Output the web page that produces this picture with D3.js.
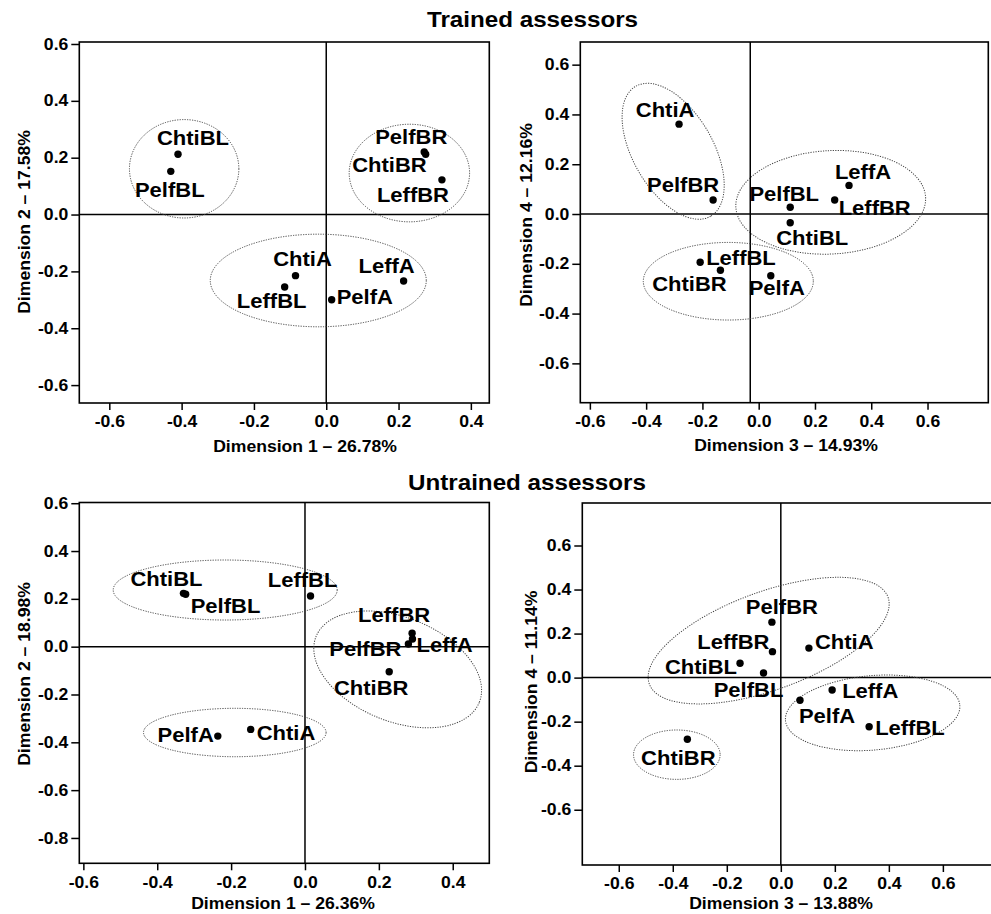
<!DOCTYPE html>
<html>
<head>
<meta charset="utf-8">
<script src="https://cdn.jsdelivr.net/npm/d3@7"></script>
<style>
  body { margin: 0; background: #fff; }
  svg text { font-family: "Liberation Sans", Arial, sans-serif; font-weight: bold; fill: #000; }
</style>
</head>
<body>
<div class="chart"></div>
<script>
// samples, same order in every array below
const samples = ["ChtiA", "ChtiBL", "ChtiBR", "LeffA", "LeffBL", "LeffBR", "PelfA", "PelfBL", "PelfBR"];

// trained assessors, coordinates
const trainedDim1 = [-0.085, -0.41, 0.275, 0.214, -0.115, 0.32, 0.015, -0.43, 0.271];
const trainedDim2 = [-0.215, 0.212, 0.212, -0.234, -0.255, 0.122, -0.30, 0.152, 0.22];
const trainedDim3 = [-0.283, 0.112, -0.136, 0.321, -0.208, 0.27, 0.043, 0.112, -0.162];
const trainedDim4 = [0.361, -0.035, -0.226, 0.115, -0.194, 0.056, -0.248, 0.027, 0.056];

// untrained assessors
const untrainedDim1 = [-0.147, -0.329, 0.228, 0.291, 0.015, 0.290, -0.236, -0.323, 0.280];
const untrainedDim2 = [-0.346, 0.223, -0.105, 0.032, 0.212, 0.056, -0.374, 0.219, 0.011];
const untrainedDim3 = [0.104, -0.151, -0.346, 0.190, 0.327, -0.031, 0.071, -0.064, -0.033];
const untrainedDim4 = [0.134, 0.065, -0.280, -0.056, -0.223, 0.118, -0.103, 0.021, 0.252];

// tick labels
const ticks6to4 = [-0.6, -0.4, -0.2, 0.0, 0.2, 0.4];
const ticks6to6 = [-0.6, -0.4, -0.2, 0.0, 0.2, 0.4, 0.6];
const ticks8to6 = [-0.8, -0.6, -0.4, -0.2, 0.0, 0.2, 0.4, 0.6];

const axisTitles = ["Dimension 1 \u2013 26.78%", "Dimension 2 \u2013 17.58%",
                    "Dimension 3 \u2013 14.93%", "Dimension 4 \u2013 12.16%",
                    "Dimension 1 \u2013 26.36%", "Dimension 2 \u2013 18.98%",
                    "Dimension 3 \u2013 13.88%", "Dimension 4 \u2013 11.14%"];

// label placement around each dot: [dx, dy, anchor]
const labels1 = [[7,-10,"middle"],[15,-9,"middle"],[1,18,"end"],[-17,-8,"middle"],[-13,21,"middle"],[-29,22,"middle"],[5,4,"start"],[-1,26,"middle"],[-13,-8,"middle"]];
const labels2 = [[-14,-7,"middle"],[22,22,"middle"],[-31,21,"middle"],[14,-6,"middle"],[6,3,"start"],[4,15,"start"],[6,19,"middle"],[-6,-6,"middle"],[-30,-8,"middle"]];
const labels3 = [[6,11,"start"],[-17,-7,"middle"],[-18,23,"middle"],[4,13,"start"],[-8,-9,"middle"],[-18,-11,"middle"],[-4,6,"end"],[5,19,"start"],[-7,12,"end"]];
const labels4 = [[6,1,"start"],[-3,11,"end"],[-9,26,"middle"],[10,8,"start"],[6,8,"start"],[-3,-3,"end"],[27,23,"middle"],[-15,24,"middle"],[10,-8,"middle"]];

// dotted group ellipses: centre in data units, radii in px, rotation in degrees
const groups1 = [[-0.393, 0.161, 54.7, 49.2, 0], [0.230, 0.146, 60.2, 48.8, 0], [-0.022, -0.232, 108, 46.3, 0]];
const groups2 = [[-0.304, 0.252, 75, 40, 60], [0.256, 0.047, 95, 51.7, -3], [-0.108, -0.270, 85, 38.8, 0]];
const groups3 = [[-0.216, 0.237, 112, 30, 0], [0.251, -0.095, 88, 52, 22], [-0.190, -0.359, 91.3, 24.2, 0]];
const groups4 = [[-0.045, 0.168, 127, 49, -20], [0.340, -0.160, 87.5, 37.2, -5], [-0.385, -0.35, 43.3, 24.7, 0]];

const width = 991;
const height = 914;
const stretch = 1.1;

const svg = d3.select('.chart')
	.append('svg')
	.attr('width', width)
	.attr('height', height)

const panels = [
	{xs: trainedDim1, ys: trainedDim2, lab: labels1, groups: groups1,
	 left: 79.3, top: 42, right: 489.3, bottom: 403,
	 xDom: [-0.683, 0.451], yDom: [-0.663, 0.607], xTicks: ticks6to4, yTicks: ticks6to6, vline: 0,
	 xTitle: axisTitles[0], yTitle: axisTitles[1], xtX: 305, xtY: 452, ytX: 30, ytY: 222},
	{xs: trainedDim3, ys: trainedDim4, lab: labels2, groups: groups2,
	 left: 580.3, top: 42, right: 988.3, bottom: 402.7,
	 xDom: [-0.634, 0.816], yDom: [-0.758, 0.691], xTicks: ticks6to6, yTicks: ticks6to6, vline: -0.03,
	 xTitle: axisTitles[2], yTitle: axisTitles[3], xtX: 786, xtY: 451, ytX: 531.7, ytY: 215},
	{xs: untrainedDim1, ys: untrainedDim2, lab: labels3, groups: groups3,
	 left: 79.3, top: 502.5, right: 489.3, bottom: 863.3,
	 xDom: [-0.611, 0.499], yDom: [-0.906, 0.603], xTicks: ticks6to4, yTicks: ticks8to6, vline: 0,
	 xTitle: axisTitles[4], yTitle: axisTitles[5], xtX: 283, xtY: 909, ytX: 30, ytY: 674},
	{xs: untrainedDim3, ys: untrainedDim4, lab: labels4, groups: groups4,
	 left: 582.3, top: 503, right: 995, bottom: 865,
	 xDom: [-0.735, 0.793], yDom: [-0.851, 0.793], xTicks: ticks6to6, yTicks: ticks6to6, vline: 0,
	 xTitle: axisTitles[6], yTitle: axisTitles[7], xtX: 781, xtY: 909, ytX: 536.7, ytY: 682}
];

panels.forEach(drawPanel);

// figure titles
svg.append('text')
	.text('Trained assessors')
	.attr('transform', 'translate(427,27) scale(' + stretch + ',1)')
	.attr('font-size', '22px')
svg.append('text')
	.text('Untrained assessors')
	.attr('transform', 'translate(408,490) scale(' + stretch + ',1)')
	.attr('font-size', '22px')

function drawPanel(p) {
	const x = d3.scaleLinear().domain(p.xDom).range([p.left, p.right]);
	const y = d3.scaleLinear().domain(p.yDom).range([p.bottom, p.top]);
	const g = svg.append('g');
	const fmt = d => d.toFixed(1);

	// axes
	const xAxis = g.append('g')
		.attr('transform', 'translate(0,' + p.bottom + ')')
		.call(d3.axisBottom(x).tickValues(p.xTicks).tickFormat(fmt).tickSize(7).tickPadding(6));
	const yAxis = g.append('g')
		.attr('transform', 'translate(' + p.left + ',0)')
		.call(d3.axisLeft(y).tickValues(p.yTicks).tickFormat(fmt).tickSize(8).tickPadding(3));
	[xAxis, yAxis].forEach(function(a) {
		a.select('.domain').remove();
		a.selectAll('line').attr('stroke', '#000').attr('stroke-width', 1.5);
		a.selectAll('text')
			.attr('font-size', '16px')
			.attr('font-family', null)
			.attr('fill', '#000')
			.attr('transform', 'scale(' + stretch + ',1)');
	});
	yAxis.selectAll('text').attr('x', -11 / stretch);

	// frame and zero lines
	g.append('rect')
		.attr('x', p.left)
		.attr('y', p.top)
		.attr('width', p.right - p.left)
		.attr('height', p.bottom - p.top)
		.attr('fill', 'none')
		.attr('stroke', '#000')
		.attr('stroke-width', 1.6);
	g.append('line')
		.attr('x1', x(p.vline)).attr('x2', x(p.vline))
		.attr('y1', p.top).attr('y2', p.bottom)
		.attr('stroke', '#000').attr('stroke-width', 1.5);
	g.append('line')
		.attr('x1', p.left).attr('x2', p.right)
		.attr('y1', y(0)).attr('y2', y(0))
		.attr('stroke', '#000').attr('stroke-width', 1.5);

	// group ellipses
	g.selectAll('.grp')
		.data(p.groups)
		.enter()
		.append('ellipse')
		.attr('transform', d => 'translate(' + x(d[0]) + ',' + y(d[1]) + ') rotate(' + d[4] + ')')
		.attr('rx', d => d[2])
		.attr('ry', d => d[3])
		.attr('fill', 'none')
		.attr('stroke', '#444')
		.attr('stroke-width', 1)
		.attr('stroke-dasharray', '1.2,1.3');

	// points
	g.selectAll('.pt')
		.data(samples)
		.enter()
		.append('circle')
		.attr('cx', (d, i) => x(p.xs[i]))
		.attr('cy', (d, i) => y(p.ys[i]))
		.attr('r', 3.7)
		.attr('fill', '#000');

	g.selectAll('.lbl')
		.data(samples)
		.enter()
		.append('text')
		.text(d => d)
		.attr('font-size', '20px')
		.attr('text-anchor', (d, i) => p.lab[i][2])
		.attr('transform', function(d, i) {
			const px = x(p.xs[i]) + p.lab[i][0];
			const py = y(p.ys[i]) + p.lab[i][1];
			return 'translate(' + px + ',' + py + ') scale(' + stretch + ',1)';
		});

	// axis titles
	g.append('text')
		.text(p.xTitle)
		.attr('font-size', '16px')
		.attr('text-anchor', 'middle')
		.attr('transform', 'translate(' + p.xtX + ',' + p.xtY + ') scale(' + stretch + ',1)');
	g.append('text')
		.text(p.yTitle)
		.attr('font-size', '16px')
		.attr('text-anchor', 'middle')
		.attr('transform', 'translate(' + p.ytX + ',' + p.ytY + ') rotate(-90) scale(' + stretch + ',1)');
}
</script>
</body>
</html>
